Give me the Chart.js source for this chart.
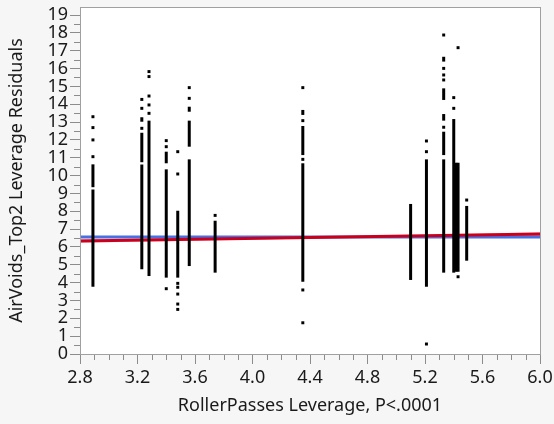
<!DOCTYPE html>
<html>
<head>
<meta charset="utf-8">
<script src="https://cdn.jsdelivr.net/npm/chart.js@4.4.1/dist/chart.umd.min.js"></script>
<style>
  html, body { margin: 0; padding: 0; background: #f6f6f6; }
  canvas { display: block; }
</style>
</head>
<body>
<canvas id="chart" width="554" height="424"></canvas>
<script>
// solid runs of stacked points: x, low, high
const segX  = [2.89, 2.89, 3.23, 3.23, 3.23, 3.28, 3.40, 3.40, 3.48, 3.56, 3.56, 3.56, 3.74,
               4.35, 4.35, 4.35, 5.10, 5.21, 5.33, 5.33, 5.33, 5.33, 5.33, 5.40, 5.415, 5.43, 5.49];
const segLo = [3.77, 9.35, 4.75, 10.75, 13.02, 4.37, 4.28, 10.69, 4.28, 4.93, 11.62, 13.58, 4.56,
               4.05, 11.15, 13.40, 4.15, 3.77, 4.56, 11.15, 13.08, 14.24, 16.39, 4.56, 4.61, 4.61, 5.23];
const segHi = [9.22, 10.63, 10.62, 12.40, 13.27, 13.08, 10.35, 11.34, 8.03, 10.91, 13.08, 13.86, 7.47,
               10.69, 12.78, 13.68, 8.41, 10.91, 10.91, 12.46, 13.45, 14.89, 16.66, 13.17, 10.72, 10.72, 8.30];

// isolated points
const dotX = [2.89, 2.89, 2.89, 2.89,
              3.23, 3.23, 3.23,
              3.28, 3.28, 3.28, 3.28, 3.28,
              3.40, 3.40, 3.40,
              3.48, 3.48, 3.48, 3.48, 3.48, 3.48, 3.48,
              3.56, 3.56, 3.74,
              4.35, 4.35, 4.35, 4.35, 4.35,
              5.21, 5.21, 5.21,
              5.33, 5.33, 5.33, 5.33, 5.33,
              5.40, 5.40, 5.43, 5.43, 5.49];
const dotY = [13.30, 12.69, 12.00, 11.06,
              14.27, 13.77, 12.65,
              15.83, 15.55, 14.46, 13.96, 13.49,
              11.96, 11.62, 3.66,
              11.34, 10.09, 3.96, 3.74, 3.36, 2.80, 2.50,
              14.93, 14.33, 7.77,
              14.93, 13.08, 10.91, 3.59, 1.75,
              11.94, 11.34, 0.56,
              17.88, 16.01, 15.64, 15.36, 12.71,
              14.37, 13.77, 17.17, 4.33, 8.63];

// fit lines
const lineX = [2.8, 6.0];
const meanY = [6.56, 6.56];
const fitY  = [6.33, 6.72];
const bandX  = [2.8, 4.7, 6.0];
const bandHi = [6.43, 6.59, 6.83];
const bandLo = [6.23, 6.52, 6.62];

const xTicks = [2.8, 3.2, 3.6, 4.0, 4.4, 4.8, 5.2, 5.6, 6.0];
const yTicks = [0, 1, 2, 3, 4, 5, 6, 7, 8, 9, 10, 11, 12, 13, 14, 15, 16, 17, 18, 19];

const datasets = [];
datasets.push({
    label: 'points',
    data: dotX.map((x, i) => ({ x: x, y: dotY[i] })),
    pointStyle: 'rect',
    pointRadius: 2.1,
    backgroundColor: '#000',
    borderWidth: 0,
    order: 0
});
segX.forEach((x, i) => {
    datasets.push({
        label: 'run' + i,
        data: [{ x: x, y: segLo[i] }, { x: x, y: segHi[i] }],
        showLine: true,
        borderColor: '#000',
        borderWidth: 3,
        pointRadius: 0,
        order: 1
    });
});
datasets.push({
    label: 'fit',
    data: lineX.map((x, i) => ({ x: x, y: fitY[i] })),
    showLine: true,
    borderColor: '#c8001e',
    borderWidth: 3,
    pointRadius: 0,
    order: 2
});
datasets.push({
    label: 'mean',
    data: lineX.map((x, i) => ({ x: x, y: meanY[i] })),
    showLine: true,
    borderColor: '#4a6fe0',
    borderWidth: 3,
    pointRadius: 0,
    order: 3
});
datasets.push({
    label: 'bandHi',
    data: bandX.map((x, i) => ({ x: x, y: bandHi[i] })),
    showLine: true,
    borderWidth: 0,
    pointRadius: 0,
    backgroundColor: 'rgba(240, 90, 110, 0.4)',
    fill: '+1',
    order: 4
});
datasets.push({
    label: 'bandLo',
    data: bandX.map((x, i) => ({ x: x, y: bandLo[i] })),
    showLine: true,
    borderWidth: 0,
    pointRadius: 0,
    order: 4
});

// background, frame and minor ticks
const frame = {
    id: 'frame',
    beforeDraw(chart) {
        const { ctx, chartArea: a } = chart;
        ctx.save();
        ctx.fillStyle = '#f6f6f6';
        ctx.fillRect(0, 0, chart.width, chart.height);
        ctx.fillStyle = '#fff';
        ctx.fillRect(a.left, a.top, a.right - a.left, a.bottom - a.top);
        ctx.restore();
    },
    afterDraw(chart) {
        const { ctx, chartArea: a, scales } = chart;
        ctx.save();
        ctx.strokeStyle = '#8c8c8c';
        ctx.lineWidth = 1;
        ctx.beginPath();
        for (let v = 28; v <= 60; v++) {
            if ((v - 28) % 4 === 0) continue;
            const px = Math.round(scales.x.getPixelForValue(v / 10)) + 0.5;
            ctx.moveTo(px, a.bottom);
            ctx.lineTo(px, a.bottom + 6);
        }
        for (let v = 1; v < 39; v += 2) {
            const py = Math.round(scales.y.getPixelForValue(v / 2)) + 0.5;
            ctx.moveTo(a.left, py);
            ctx.lineTo(a.left - 6, py);
        }
        ctx.stroke();
        ctx.strokeStyle = '#a0a0a0';
        ctx.strokeRect(Math.round(a.left) + 0.5, Math.round(a.top) + 0.5,
            Math.round(a.right - a.left), Math.round(a.bottom - a.top));
        ctx.restore();
    }
};

const tickFont = { family: 'Noto Sans', size: 18 };
const titleFont = { family: 'Noto Sans', size: 18 };

new Chart(document.getElementById('chart'), {
    type: 'scatter',
    data: { datasets: datasets },
    options: {
        responsive: false,
        animation: false,
        devicePixelRatio: 1,
        layout: { padding: { top: 7, right: 14, left: 0, bottom: 0 } },
        plugins: { legend: { display: false }, tooltip: { enabled: false } },
        scales: {
            x: {
                type: 'linear',
                min: 2.8,
                max: 6.0,
                afterBuildTicks: s => { s.ticks = xTicks.map(v => ({ value: v })); },
                afterFit: s => { s.height = 70; s.paddingLeft = 0; s.paddingRight = 0; },
                ticks: {
                    font: tickFont,
                    color: '#1a1a1a',
                    padding: 3,
                    maxRotation: 0,
                    autoSkip: false,
                    callback: v => Number(v).toFixed(1)
                },
                grid: { drawOnChartArea: false, drawTicks: true, tickLength: 10, color: '#8c8c8c' },
                border: { color: '#8c8c8c' },
                title: {
                    display: true,
                    text: 'RollerPasses Leverage, P<.0001',
                    font: titleFont,
                    color: '#1a1a1a',
                    padding: { top: 0, bottom: 7 }
                }
            },
            y: {
                min: 0,
                max: 19.45,
                afterBuildTicks: s => { s.ticks = yTicks.map(v => ({ value: v })); },
                afterFit: s => { s.width = 80; s.paddingTop = 0; s.paddingBottom = 0; },
                ticks: {
                    autoSkip: false,
                    font: tickFont,
                    color: '#1a1a1a',
                    padding: 2
                },
                grid: { drawOnChartArea: false, drawTicks: true, tickLength: 10, color: '#8c8c8c' },
                border: { color: '#8c8c8c' },
                title: {
                    display: true,
                    text: 'AirVoids_Top2 Leverage Residuals',
                    font: titleFont,
                    color: '#1a1a1a',
                    padding: { top: 6, bottom: 0 }
                }
            }
        }
    },
    plugins: [frame]
});
</script>
</body>
</html>
